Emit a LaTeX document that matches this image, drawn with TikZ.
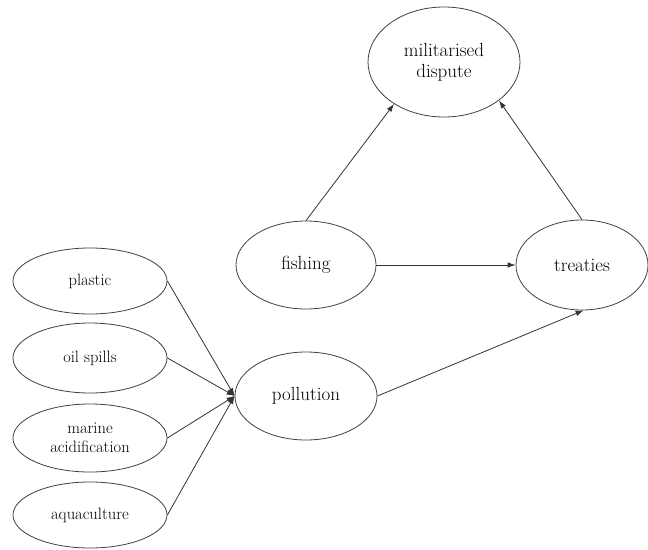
\documentclass[tikz,border=0pt]{standalone}
\usetikzlibrary{shapes.geometric,arrows.meta}
\begin{document}
\begin{tikzpicture}[x=1pt,y=-1pt,
  ell/.style={draw=black!75,line width=0.8pt,ellipse,inner sep=0pt,align=center},
  bigell/.style={ell,font=\rmfamily\fontsize{19}{21}\selectfont},
  smallell/.style={ell,font=\rmfamily\fontsize{16.5}{19}\selectfont,minimum width=154pt},
  conn/.style={draw=black!80,line width=0.8pt,-{Latex[length=8pt,width=5.5pt]}}]
\useasboundingbox (0,0) rectangle (648,549);
\node[bigell,minimum width=152pt,minimum height=110pt] (mil) at (444,62) {militarised\\dispute};
\node[bigell,minimum width=140pt,minimum height=88pt] (fish) at (306,265) {fishing};
\node[bigell,minimum width=132pt,minimum height=90pt] (treat) at (582,265) {treaties};
\node[bigell,minimum width=142pt,minimum height=88pt] (poll) at (306,396) {pollution};
\node[smallell,minimum height=66pt] (plastic) at (90,281) {plastic};
\node[smallell,minimum height=70pt] (oil) at (90,358) {oil spills};
\node[smallell,minimum height=68pt] (marine) at (90,438) {marine\\acidification};
\node[smallell,minimum height=66pt] (aqua) at (90,515) {aquaculture};
\draw[conn] (fish.north) -- (mil.220);
\draw[conn] (treat.north) -- (mil.325);
\draw[conn] (fish.east) -- (treat.west);
\draw[conn] (poll.east) -- (treat.272);
\draw[conn] (plastic.east) -- (poll.west);
\draw[conn] (oil.east) -- (poll.west);
\draw[conn] (marine.east) -- (poll.west);
\draw[conn] (aqua.east) -- (poll.west);
\end{tikzpicture}
\end{document}
